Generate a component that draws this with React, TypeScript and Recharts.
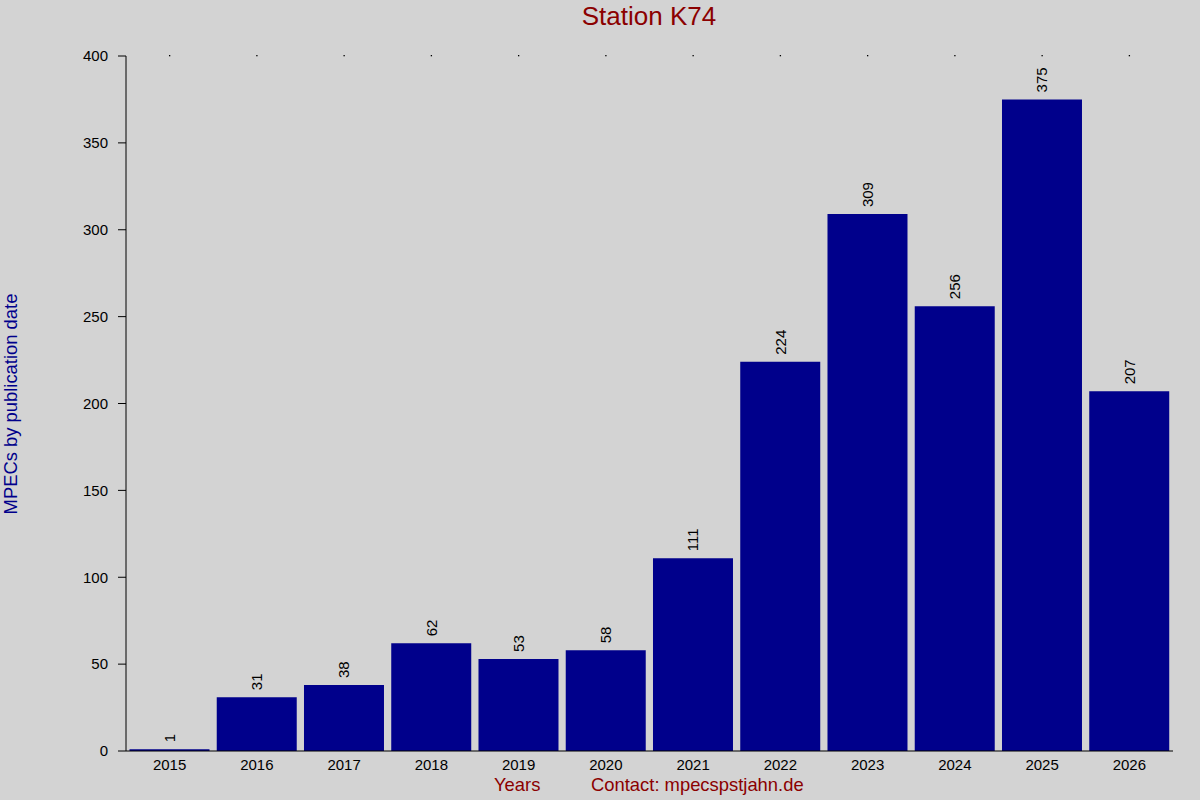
import { BarChart, Bar, XAxis, YAxis, LabelList } from "recharts";

const years = ["2015", "2016", "2017", "2018", "2019", "2020", "2021", "2022", "2023", "2024", "2025", "2026"];
const mpecs = [1, 31, 38, 62, 53, 58, 111, 224, 309, 256, 375, 207];
const yTicks = [0, 50, 100, 150, 200, 250, 300, 350, 400];

const data = years.map((year, i) => ({ year, count: mpecs[i] }));

const FONT = "'Liberation Sans', Arial, sans-serif";
const DARK_RED = "#8b0000";
const DARK_BLUE = "#00008b";

function ValueLabel(props: any) {
  const { x, y, width, value } = props;
  const cx = Number(x) + Number(width) / 2;
  const ty = Number(y) - 7;
  return (
    <text
      x={cx}
      y={ty}
      dy="0.36em"
      transform={`rotate(-90, ${cx}, ${ty})`}
      textAnchor="start"
      fontSize={15}
      fontFamily={FONT}
      fill="#000"
    >
      {value}
    </text>
  );
}

// the bar background is used only to put a tiny dot at the top of each column
function TopDot(props: any) {
  const { x, y, width } = props;
  const cx = Number(x) + Number(width) / 2;
  return <rect x={cx - 0.5} y={Number(y) - 1} width={1.3} height={1.3} fill="#000" />;
}

export default function App() {
  return (
    <div
      style={{
        position: "absolute",
        left: 0,
        top: 0,
        width: 1200,
        height: 800,
        background: "#d3d3d3",
        fontFamily: FONT,
      }}
    >
      <div
        style={{
          position: "absolute",
          left: 0,
          top: 1,
          width: 1298,
          textAlign: "center",
          fontSize: 26,
          color: DARK_RED,
        }}
      >
        Station K74
      </div>
      <div
        style={{
          position: "absolute",
          left: 11,
          top: 404,
          transform: "translate(-50%, -50%) rotate(-90deg)",
          whiteSpace: "nowrap",
          fontSize: 18.4,
          color: DARK_BLUE,
        }}
      >
        MPECs by publication date
      </div>
      <div style={{ position: "absolute", left: 494, top: 774, fontSize: 18.4, color: DARK_RED }}>Years</div>
      <div style={{ position: "absolute", left: 591, top: 774, fontSize: 18.4, color: DARK_RED }}>
        Contact: mpecspstjahn.de
      </div>
      <BarChart
        width={1200}
        height={800}
        data={data}
        margin={{ top: 56, right: 27, left: 0, bottom: 0 }}
        barCategoryGap="4%"
        style={{ position: "absolute", left: 0, top: 0 }}
      >
        <XAxis
          dataKey="year"
          height={49}
          tickSize={0}
          tickMargin={8}
          axisLine={{ stroke: "#000" }}
          tick={{ fill: "#000", fontSize: 15, fontFamily: FONT }}
        />
        <YAxis
          width={126}
          domain={[0, 400]}
          ticks={yTicks}
          interval={0}
          tickSize={8}
          tickMargin={10}
          axisLine={{ stroke: "#000" }}
          tickLine={{ stroke: "#000" }}
          tick={{ fill: "#000", fontSize: 15, fontFamily: FONT }}
        />
        <Bar dataKey="count" fill={DARK_BLUE} background={TopDot} isAnimationActive={false}>
          <LabelList dataKey="count" content={ValueLabel} />
        </Bar>
      </BarChart>
    </div>
  );
}
